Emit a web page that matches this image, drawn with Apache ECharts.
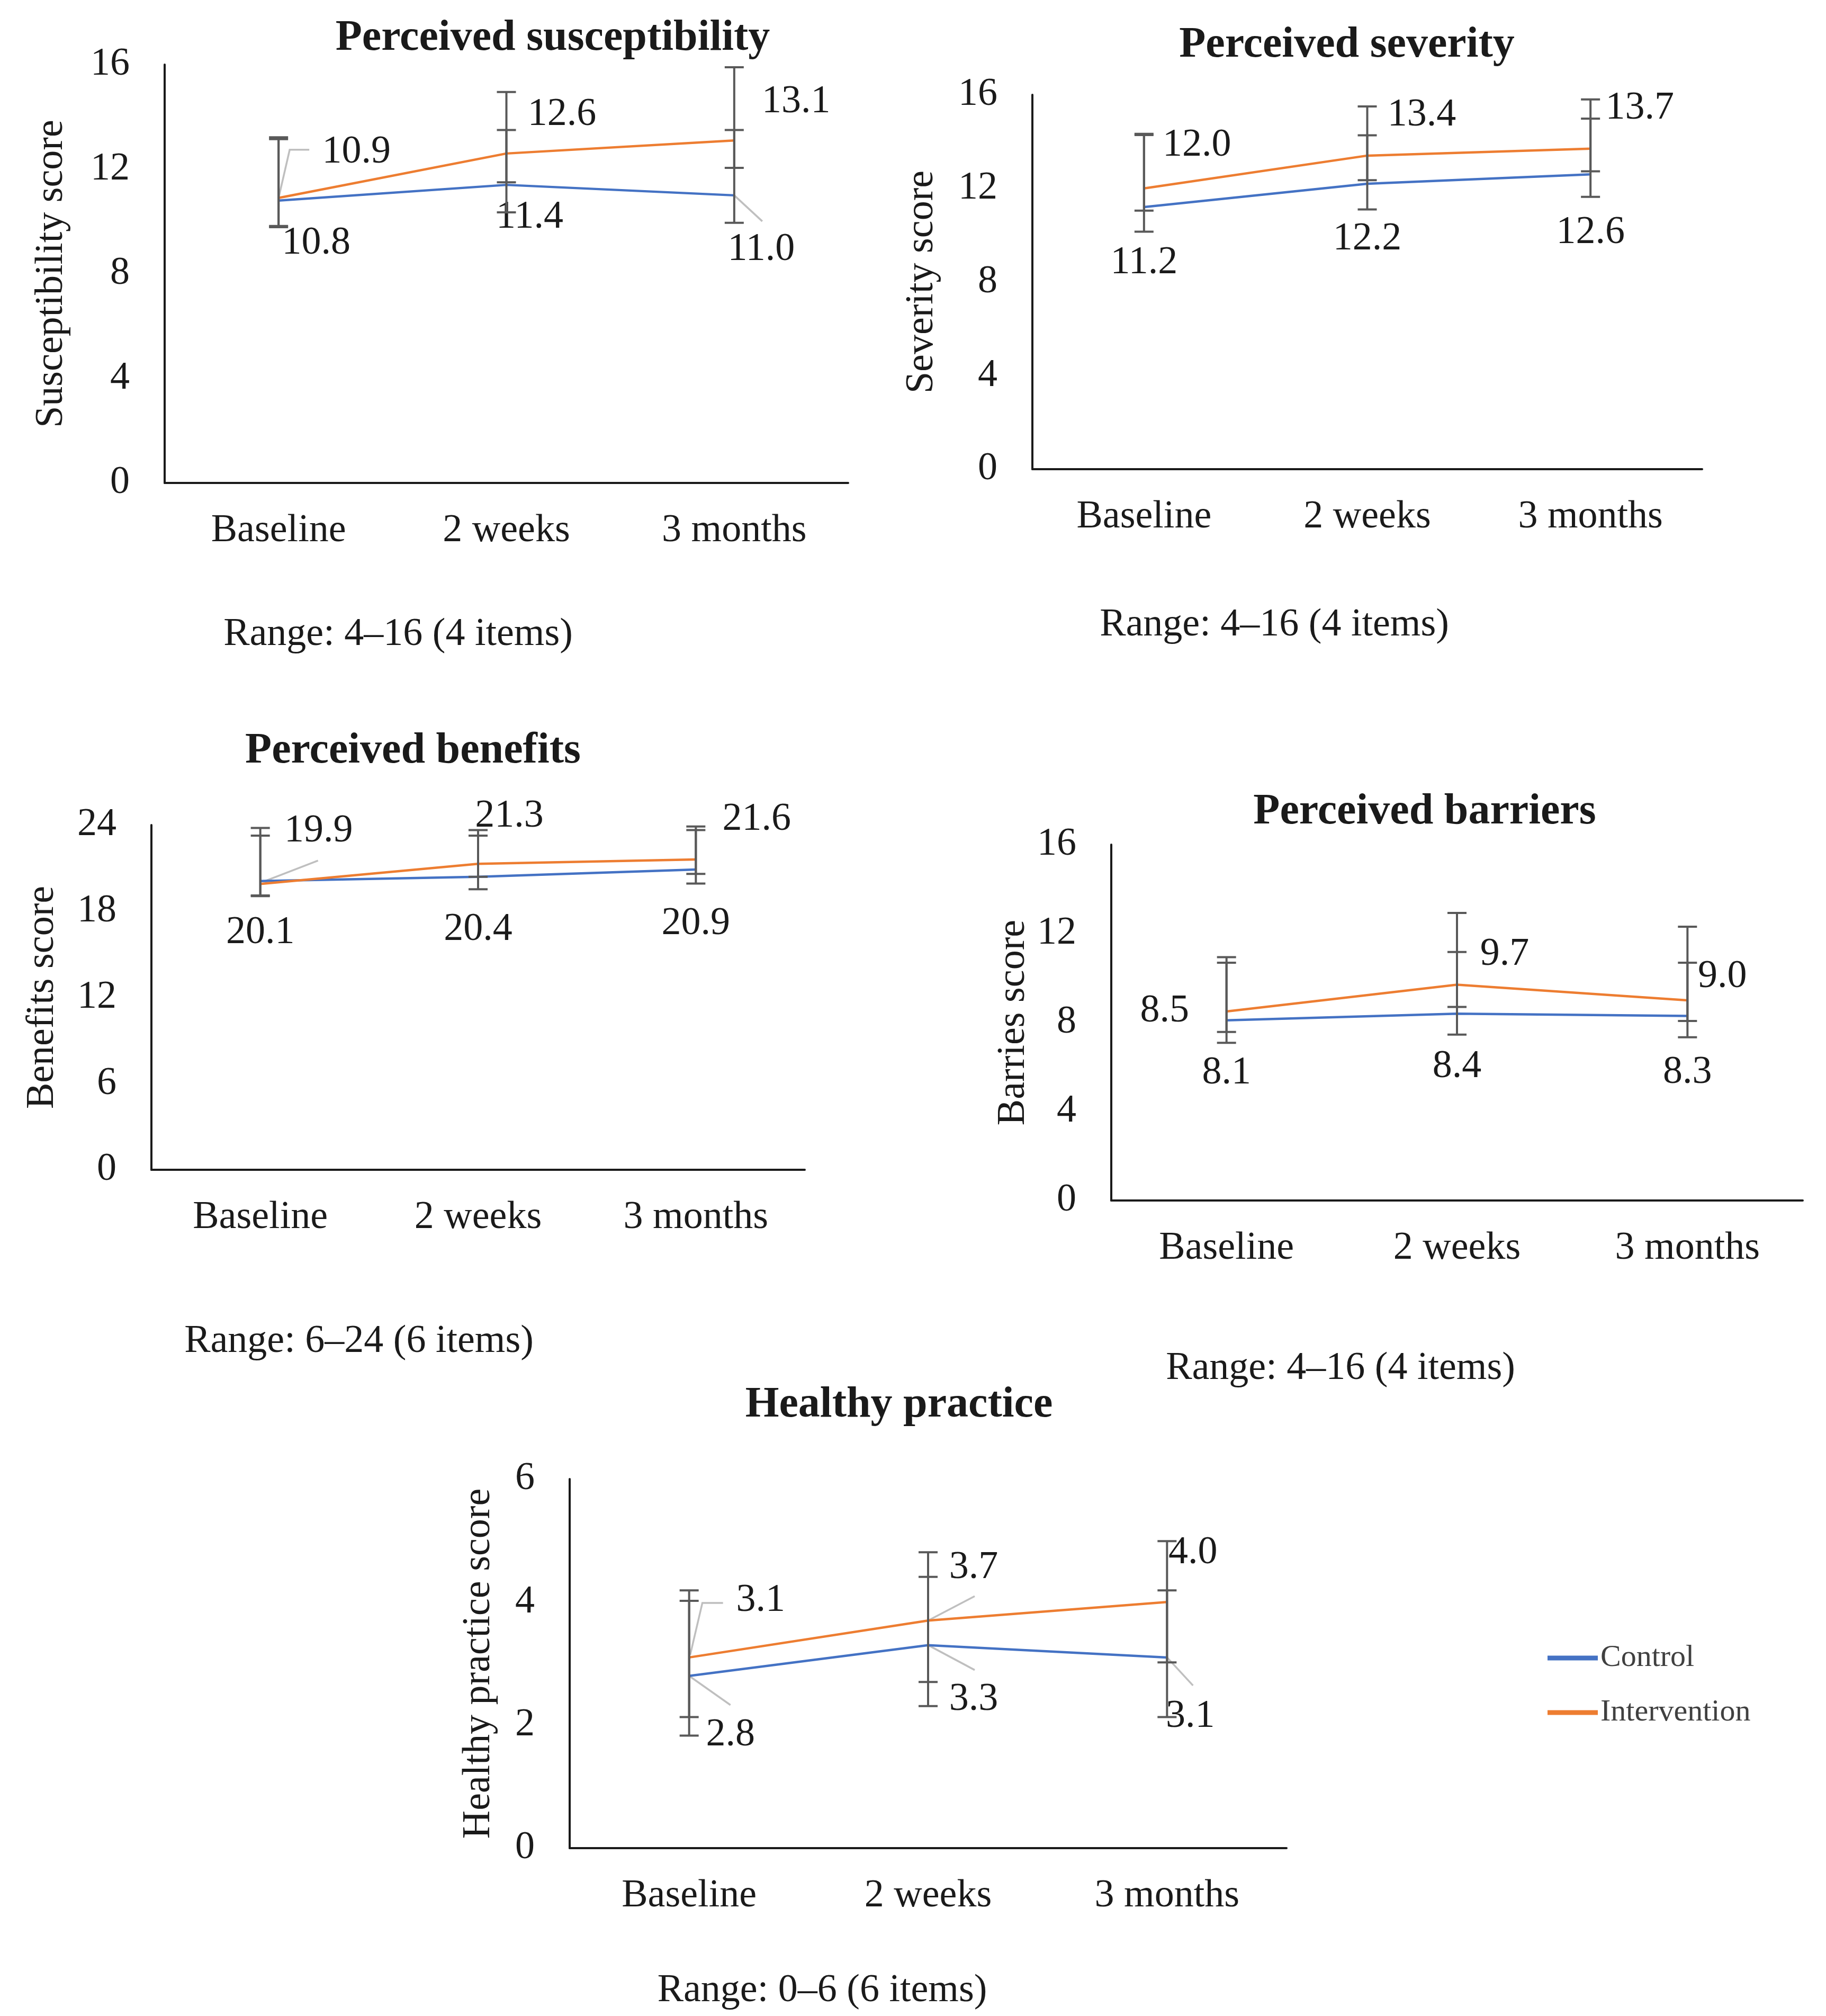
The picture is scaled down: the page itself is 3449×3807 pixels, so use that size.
<!DOCTYPE html>
<html>
<head>
<meta charset="utf-8">
<script src="https://cdn.jsdelivr.net/npm/echarts@6/dist/echarts.min.js"></script>
<style>html,body{margin:0;padding:0;background:#fff}#c{width:3449px;height:3807px}</style>
</head>
<body>
<div id="c"></div>
<script>
// ---------------- DATA ----------------
const categories = ['Baseline', '2 weeks', '3 months'];
const seriesNames = ['Control', 'Intervention'];

const panelTitles = ['Perceived susceptibility', 'Perceived severity', 'Perceived benefits', 'Perceived barriers', 'Healthy practice'];
const yAxisNames = ['Susceptibility score', 'Severity score', 'Benefits score', 'Barries score', 'Healthy practice score'];
const rangeNotes = ['Range: 4\u201316 (4 items)', 'Range: 4\u201316 (4 items)', 'Range: 6\u201324 (6 items)', 'Range: 4\u201316 (4 items)', 'Range: 0\u20136 (6 items)'];

const susceptibilityTicks = [0, 4, 8, 12, 16];
const severityTicks = [0, 4, 8, 12, 16];
const benefitsTicks = [0, 6, 12, 18, 24];
const barriersTicks = [0, 4, 8, 12, 16];
const practiceTicks = [0, 2, 4, 6];

// Perceived susceptibility
const susceptibilityControl = [10.8, 11.4, 11.0];
const susceptibilityIntervention = [10.9, 12.6, 13.1];
const susceptibilityControlLow = [9.78, 11.5, 12.05];
const susceptibilityControlHigh = [13.15, 13.5, 13.5];
const susceptibilityInterventionLow = [9.83, 10.35, 9.95];
const susceptibilityInterventionHigh = [13.22, 14.95, 15.9];

// Perceived severity
const severityControl = [11.2, 12.2, 12.6];
const severityIntervention = [12.0, 13.4, 13.7];
const severityControlLow = [11.05, 12.35, 12.73];
const severityControlHigh = [14.28, 14.27, 14.98];
const severityInterventionLow = [10.15, 11.1, 11.64];
const severityInterventionHigh = [14.33, 15.5, 15.8];

// Perceived benefits
const benefitsControl = [20.1, 20.4, 20.9];
const benefitsIntervention = [19.9, 21.3, 21.6];
const benefitsControlLow = [19.1, 20.4, 20.6];
const benefitsControlHigh = [23.8, 23.65, 23.9];
const benefitsInterventionLow = [19.05, 19.53, 19.93];
const benefitsInterventionHigh = [23.26, 23.26, 23.65];

// Perceived barriers
const barriersControl = [8.1, 8.4, 8.3];
const barriersIntervention = [8.5, 9.7, 9.0];
const barriersControlLow = [7.58, 8.7, 8.07];
const barriersControlHigh = [10.69, 11.17, 10.69];
const barriersInterventionLow = [7.09, 7.46, 7.34];
const barriersInterventionHigh = [10.94, 12.93, 12.31];

// Healthy practice
const practiceControl = [2.8, 3.3, 3.1];
const practiceIntervention = [3.1, 3.7, 4.0];
const practiceControlLow = [1.83, 2.31, 2.13];
const practiceControlHigh = [4.02, 4.41, 4.19];
const practiceInterventionLow = [2.13, 2.7, 3.02];
const practiceInterventionHigh = [4.19, 4.81, 4.99];

// ---------------- LAYOUT / STYLE ----------------
const FONT = '"Liberation Serif", "Times New Roman", serif';
const TEXT = '#1a1a1a';
const BLUE = '#4472C4';
const ORANGE = '#ED7D31';

const panels = [
  { ticks: susceptibilityTicks, control: susceptibilityControl, intervention: susceptibilityIntervention,
    cLow: susceptibilityControlLow, cHigh: susceptibilityControlHigh, iLow: susceptibilityInterventionLow, iHigh: susceptibilityInterventionHigh,
    grid: { left: 311, top: 122, width: 1291, height: 790 }, nameGap: 176,
    titlePos: [1044, 73], rangePos: [752, 1199],
    cOff: [[71, 81], [44, 61], [51, 103]], iOff: [[147, -86], [105, -73], [117, -73]],
    leaders: [{ s: 'i', i: 0, pts: [[0, 0], [21, -91], [58, -91]] }, { s: 'c', i: 2, pts: [[0, 0], [53, 49]] }] },
  { ticks: severityTicks, control: severityControl, intervention: severityIntervention,
    cLow: severityControlLow, cHigh: severityControlHigh, iLow: severityInterventionLow, iHigh: severityInterventionHigh,
    grid: { left: 1950, top: 179, width: 1265, height: 707 }, nameGap: 171,
    titlePos: [2544, 86], rangePos: [2407, 1181],
    cOff: [[0, 105], [0, 105], [0, 110]], iOff: [[100, -81], [103, -76], [93, -76]],
    leaders: [] },
  { ticks: benefitsTicks, control: benefitsControl, intervention: benefitsIntervention,
    cLow: benefitsControlLow, cHigh: benefitsControlHigh, iLow: benefitsInterventionLow, iHigh: benefitsInterventionHigh,
    grid: { left: 286, top: 1558, width: 1234, height: 651 }, nameGap: 168,
    titlePos: [780, 1419], rangePos: [678, 2534],
    cOff: [[0, 98], [0, 100], [0, 102]], iOff: [[110, -100], [59, -90], [115, -76]],
    leaders: [{ s: 'i', i: 0, pts: [[8, -5], [109, -44]] }] },
  { ticks: barriersTicks, control: barriersControl, intervention: barriersIntervention,
    cLow: barriersControlLow, cHigh: barriersControlHigh, iLow: barriersInterventionLow, iHigh: barriersInterventionHigh,
    grid: { left: 2099, top: 1595, width: 1306, height: 672 }, nameGap: 147,
    titlePos: [2691, 1534], rangePos: [2532, 2585],
    cOff: [[0, 100], [0, 100], [0, 107]], iOff: [[-117, 0], [90, -57], [66, -44]],
    leaders: [] },
  { ticks: practiceTicks, control: practiceControl, intervention: practiceIntervention,
    cLow: practiceControlLow, cHigh: practiceControlHigh, iLow: practiceInterventionLow, iHigh: practiceInterventionHigh,
    grid: { left: 1076, top: 2793, width: 1354, height: 697 }, nameGap: 134,
    titlePos: [1698, 2654], rangePos: [1553, 3760],
    cOff: [[78, 112], [86, 103], [44, 112]], iOff: [[135, -107], [86, -100], [49, -93]],
    leaders: [
      { s: 'i', i: 0, pts: [[2, -5], [25, -103], [64, -103]] },
      { s: 'c', i: 0, pts: [[0, 0], [78, 55]] },
      { s: 'i', i: 1, pts: [[0, 0], [88, -46]] },
      { s: 'c', i: 1, pts: [[0, 0], [88, 47]] },
      { s: 'c', i: 2, pts: [[0, 0], [49, 53]] }
    ] }
];

// ---------------- BUILD OPTION ----------------
const grids = [], xAxes = [], yAxes = [], series = [], graphics = [];

function lineSeries(name, values, gi, color, offsets) {
  return {
    type: 'line', name: name, xAxisIndex: gi, yAxisIndex: gi,
    data: values.map((v, i) => ({ value: v, label: { offset: offsets[i] } })),
    symbol: 'circle', symbolSize: 1, showSymbol: true,
    lineStyle: { color: color, width: 4.5 }, itemStyle: { color: color },
    label: { show: true, position: 'inside', formatter: p => Number(p.value).toFixed(1),
      fontFamily: FONT, fontSize: 74, color: TEXT },
    z: 3, silent: true
  };
}

function errorSeries(low, high, gi) {
  return {
    type: 'custom', xAxisIndex: gi, yAxisIndex: gi, z: 4, silent: true,
    data: low.map((l, i) => [i, l, high[i]]),
    encode: { x: 0, y: [1, 2] },
    renderItem: function (params, api) {
      const x = api.value(0);
      const p1 = api.coord([x, api.value(1)]);
      const p2 = api.coord([x, api.value(2)]);
      const hw = 18;
      const style = { stroke: '#595959', lineWidth: 4 };
      return { type: 'group', children: [
        { type: 'line', shape: { x1: p1[0], y1: p1[1], x2: p2[0], y2: p2[1] }, style: style },
        { type: 'line', shape: { x1: p1[0] - hw, y1: p1[1], x2: p1[0] + hw, y2: p1[1] }, style: style },
        { type: 'line', shape: { x1: p2[0] - hw, y1: p2[1], x2: p2[0] + hw, y2: p2[1] }, style: style }
      ] };
    }
  };
}

function leaderSeries(panel, gi) {
  const items = panel.leaders;
  return {
    type: 'custom', xAxisIndex: gi, yAxisIndex: gi, z: 2, silent: true,
    data: items.map(l => [l.i, (l.s === 'c' ? panel.control : panel.intervention)[l.i]]),
    encode: { x: 0, y: 1 },
    renderItem: function (params, api) {
      const p = api.coord([api.value(0), api.value(1)]);
      const pts = items[params.dataIndex].pts.map(o => [p[0] + o[0], p[1] + o[1]]);
      return { type: 'polyline', shape: { points: pts }, style: { stroke: '#bfbfbf', lineWidth: 3.5, fill: null } };
    }
  };
}

panels.forEach((p, gi) => {
  grids.push(Object.assign({ containLabel: false }, p.grid));
  xAxes.push({
    type: 'category', gridIndex: gi, data: categories, boundaryGap: true,
    axisLine: { show: true, lineStyle: { color: '#1a1a1a', width: 4 } },
    axisTick: { show: false },
    axisLabel: { fontFamily: FONT, fontSize: 74, lineHeight: 74, color: TEXT, margin: 54, interval: 0 },
    splitLine: { show: false }
  });
  const t = p.ticks;
  yAxes.push({
    type: 'value', gridIndex: gi, min: t[0], max: t[t.length - 1], interval: t[1] - t[0],
    name: yAxisNames[gi], nameLocation: 'middle', nameGap: p.nameGap, nameRotate: 90,
    nameTextStyle: { fontFamily: FONT, fontSize: 74, color: TEXT, lineHeight: 74 },
    axisLine: { show: true, lineStyle: { color: '#1a1a1a', width: 4 } },
    axisTick: { show: false },
    axisLabel: { fontFamily: FONT, fontSize: 74, color: TEXT, margin: 66 },
    splitLine: { show: false }
  });
  series.push(lineSeries(seriesNames[0], p.control, gi, BLUE, p.cOff));
  series.push(lineSeries(seriesNames[1], p.intervention, gi, ORANGE, p.iOff));
  series.push(errorSeries(p.cLow, p.cHigh, gi));
  series.push(errorSeries(p.iLow, p.iHigh, gi));
  if (p.leaders.length) series.push(leaderSeries(p, gi));

  graphics.push({ type: 'text', x: p.titlePos[0], y: p.titlePos[1], silent: true,
    style: { text: panelTitles[gi], font: 'bold 82px ' + FONT, fill: TEXT,
      align: 'center', verticalAlign: 'middle', textAlign: 'center', textVerticalAlign: 'middle' } });
  graphics.push({ type: 'text', x: p.rangePos[0], y: p.rangePos[1], silent: true,
    style: { text: rangeNotes[gi], font: '74px ' + FONT, fill: TEXT,
      align: 'center', verticalAlign: 'middle', textAlign: 'center', textVerticalAlign: 'middle' } });
});

const option = {
  backgroundColor: '#ffffff',
  animation: false,
  grid: grids, xAxis: xAxes, yAxis: yAxes, series: series,
  graphic: graphics,
  legend: {
    data: seriesNames, orient: 'vertical', left: 2923, top: 3102, padding: 0,
    itemWidth: 95, itemHeight: 9, itemGap: 45, icon: 'rect', selectedMode: false,
    textStyle: { fontFamily: FONT, fontSize: 58, lineHeight: 58, color: '#404040' }
  }
};

const chart = echarts.init(document.getElementById('c'), null, { renderer: 'canvas' });
chart.setOption(option);
</script>
</body>
</html>
